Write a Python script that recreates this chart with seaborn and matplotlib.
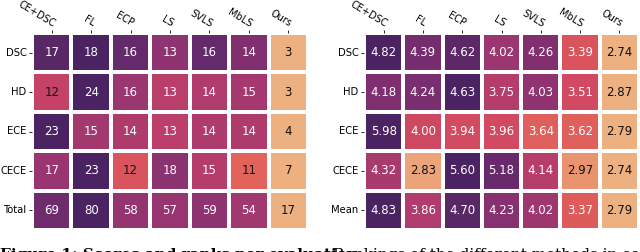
import numpy as np
import pandas as pd
import matplotlib
matplotlib.use("Agg")
import matplotlib.pyplot as plt
import seaborn as sns

methods = ["CE+DSC", "FL", "ECP", "LS", "SVLS", "MbLS", "Ours"]
rank_rows = ["DSC", "HD", "ECE", "CECE", "Total"]
score_rows = ["DSC", "HD", "ECE", "CECE", "Mean"]

rank_dsc = [17, 18, 16, 13, 16, 14, 3]
rank_hd = [12, 24, 16, 13, 14, 15, 3]
rank_ece = [23, 15, 14, 13, 14, 14, 4]
rank_cece = [17, 23, 12, 18, 15, 11, 7]
rank_total = [69, 80, 58, 57, 59, 54, 17]

score_dsc = [4.82, 4.39, 4.62, 4.02, 4.26, 3.39, 2.74]
score_hd = [4.18, 4.24, 4.63, 3.75, 4.03, 3.51, 2.87]
score_ece = [5.98, 4.00, 3.94, 3.96, 3.64, 3.62, 2.79]
score_cece = [4.32, 2.83, 5.60, 5.18, 4.14, 2.97, 2.74]
score_mean = [4.83, 3.86, 4.70, 4.23, 4.02, 3.37, 2.79]

ranks = pd.DataFrame([rank_dsc, rank_hd, rank_ece, rank_cece, rank_total],
                     index=rank_rows, columns=methods)
scores = pd.DataFrame([score_dsc, score_hd, score_ece, score_cece, score_mean],
                      index=score_rows, columns=methods)


def rownorm(df):
    mn = df.min(axis=1).values[:, None]
    mx = df.max(axis=1).values[:, None]
    return pd.DataFrame((df.values - mn) / (mx - mn), index=df.index, columns=df.columns)


fig = plt.figure(figsize=(6.4, 2.52), dpi=100)
ax1 = fig.add_axes([32 / 640, 1 - 230 / 252, 276 / 640, 197 / 252])
ax2 = fig.add_axes([364 / 640, 1 - 230 / 252, 275 / 640, 197 / 252])

for ax, df, fmt, thr in [(ax1, ranks, "d", 0.45), (ax2, scores, ".2f", 0.15)]:
    norm = rownorm(df)
    sns.heatmap(norm ** 0.85, annot=df.values, fmt=fmt, cmap="flare", vmin=0, vmax=1,
                linewidths=1.5, linecolor="white", cbar=False, ax=ax,
                annot_kws={"fontsize": 8.5})
    flat = norm.values.ravel()
    for t, v in zip(ax.texts, flat):
        t.set_color("#111111" if v < thr else "white")
    ax.xaxis.tick_top()
    ax.set_xticklabels(methods, rotation=-31, ha="right", rotation_mode="anchor",
                       fontsize=7.0)
    ax.set_yticklabels(df.index, rotation=0, fontsize=7.2)
    ax.tick_params(axis="both", length=2, width=0.6, pad=2)
    ax.tick_params(axis="x", pad=1)
    ax.set_xlabel("")
    ax.set_ylabel("")

fig.text(0.0, 1 - 248 / 252, "Figure 1: Scores and ranks per evaluation.", fontsize=11,
         fontweight="bold", family="DejaVu Serif", va="top", ha="left")
fig.text(0.52, 1 - 248 / 252, "Rankings of the different methods in each evaluation",
         fontsize=11, family="DejaVu Serif", va="top", ha="left")

fig.savefig("out.png", dpi=100)
